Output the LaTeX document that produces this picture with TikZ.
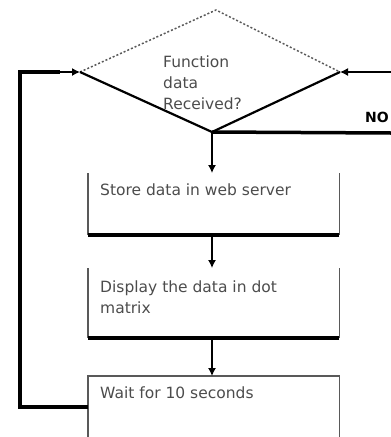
\documentclass[tikz,border=0pt]{standalone}
\usepackage{fontspec}
\setmainfont{DejaVu Sans}
\usetikzlibrary{arrows.meta}
\tikzset{
  thinedge/.style={draw=black!65, line width=1.4pt},
  thickedge/.style={draw=black, line width=4pt},
  flow/.style={draw=black, line width=1.3pt, -{Latex[length=8pt,width=8pt]}},
  label/.style={font=\fontsize{15.5}{21}\selectfont, text=black!70, align=left, inner sep=0pt, anchor=north west},
  area/.style={inner sep=0pt, minimum width=251pt, anchor=north west}
}
\begin{document}
\begin{tikzpicture}[x=1pt,y=-1pt]
\useasboundingbox (0,0) rectangle (391,437);

% decision diamond
\coordinate (dT) at (216,10);
\coordinate (dL) at (80,72);
\coordinate (dR) at (340,72);
\coordinate (dB) at (212,132);
\draw[black!65, line width=1.5pt, dash pattern=on 2pt off 2pt] (dL) -- (dT) -- (dR);
\draw[black, line width=2.2pt] (dL) -- (dB) -- (dR);
\node[label] (q) at (163,56) {Function\\data\\Received?};

% process boxes
\node[area, minimum height=62pt] (b1) at (88,173) {};
\node[area, minimum height=70pt] (b2) at (88,268) {};
\node[area, minimum height=61pt] (b3) at (88,376) {};

\draw[thinedge] (b1.north west) -- (b1.south west);
\draw[thinedge] (b1.north east) -- (b1.south east);
\draw[thickedge] (b1.south west) -- (b1.south east);

\draw[thinedge] (b2.north west) -- (b2.south west);
\draw[thinedge] (b2.north east) -- (b2.south east);
\draw[thickedge] (b2.south west) -- (b2.south east);

\draw[thinedge] (b3.south west) -- (b3.north west) -- (b3.north east) -- (b3.south east);
\draw[thinedge] (b3.south west) -- (b3.south east);

\node[label] (t1) at (100,184) {Store data in web server};
\node[label] (t2) at (100,280.5) {Display the data in dot\\matrix};
\node[label] (t3) at (100,386.5) {Wait for 10 seconds};

% main flow
\draw[flow] (dB) -- (dB |- b1.north);
\draw[flow] (b1.south -| dB) -- (b2.north -| dB);
\draw[flow] (b2.south -| dB) -- (b3.north -| dB);

% loop back to the decision
\coordinate (lb) at (20,407);
\coordinate (lt) at (20,72);
\draw[black, line width=3.5pt] (b3.west |- lb) -- (lb) -- (lt) -- (60,72);
\draw[flow] (lt) -- (dL);

% right-hand branch
\coordinate (rin) at (391,72);
\coordinate (rno) at (391,133);
\draw[flow] (rin) -- (dR);
\draw[black, line width=3.5pt] (dB) -- (rno);
\node[font=\bfseries\fontsize{14}{16}\selectfont, anchor=east, inner sep=0pt] (no) at (389,117) {NO};
\end{tikzpicture}
\end{document}
